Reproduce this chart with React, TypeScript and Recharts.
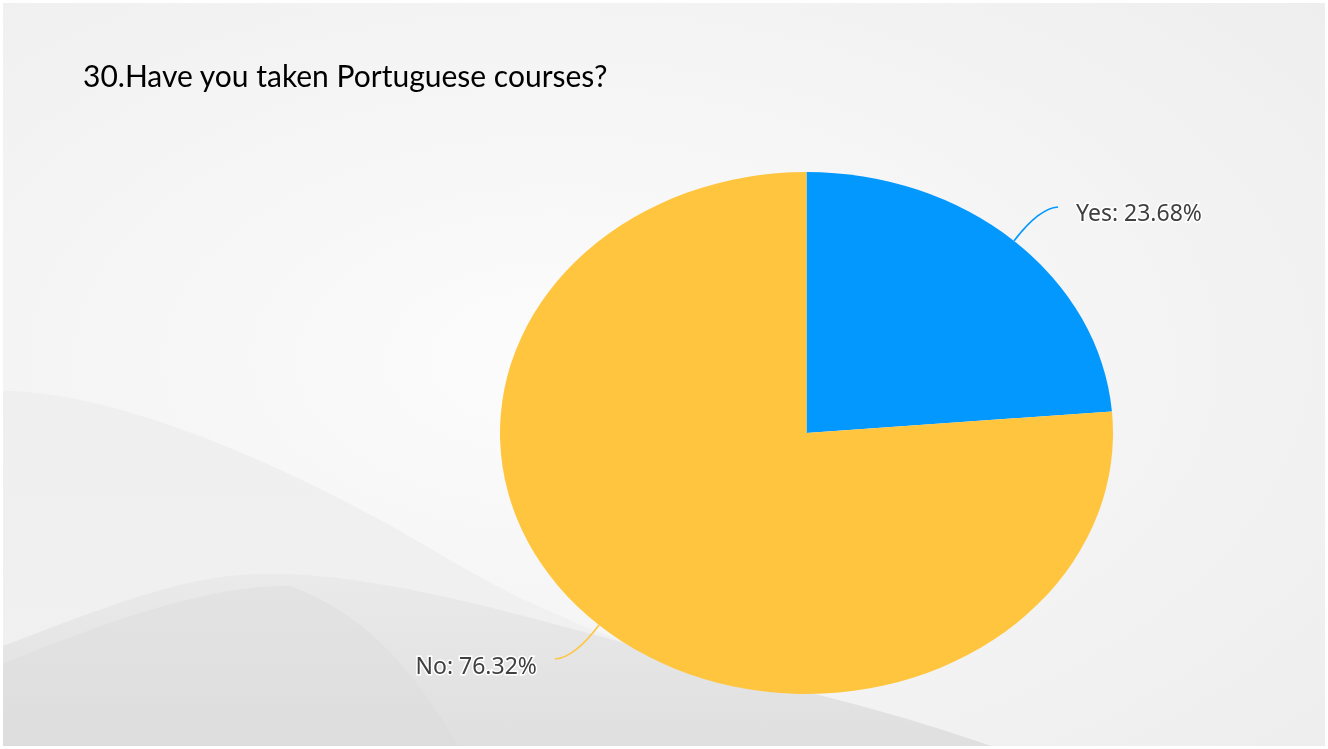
import { PieChart, Pie, Cell } from 'recharts'

// survey answers
const categories = ['Yes', 'No']
const shares = [23.68, 76.32]
const sliceColors = ['#0398FE', '#FFC53E']

const W = 1328
const H = 749
const CX = 806.5
const CY = 433
const RY = 261
const RX = 306.5
const SX = RX / RY // pie is drawn stretched into an ellipse

const data = categories.map((name, i) => ({ name, value: shares[i] }))

const toCircleX = (x: number) => CX + (x - CX) / SX

function renderLabel(props: any) {
  const { midAngle, index } = props
  const rad = (midAngle * Math.PI) / 180
  const cos = Math.cos(rad)
  const sin = Math.sin(rad)
  // edge point in ellipse (screen) space
  const ex = CX + RX * cos
  const ey = CY - RY * sin
  const dx = Math.sign(cos) * 44
  const dy = -Math.sign(sin) * 34
  const endX = ex + dx
  const endY = ey + dy
  const ctrlX = ex + dx * 0.55
  const ctrlY = ey + dy * 0.95
  const right = cos >= 0
  const tx = right ? endX + 18 : endX - 18
  const ty = right ? endY + 5 : endY + 6
  const tcx = toCircleX(tx)
  return (
    <g key={`lbl-${index}`}>
      <path
        d={`M${toCircleX(ex)},${ey} Q${toCircleX(ctrlX)},${ctrlY} ${toCircleX(endX)},${endY}`}
        fill="none"
        stroke={sliceColors[index]}
        strokeWidth={1.5}
        vectorEffect="non-scaling-stroke"
      />
      <text
        x={tcx}
        y={ty}
        transform={`translate(${tcx},0) scale(${1 / SX},1) translate(${-tcx},0)`}
        textAnchor={right ? 'start' : 'end'}
        dominantBaseline="central"
        fontFamily="'Noto Sans', sans-serif"
        fontSize={23}
        fill="#404040"
        stroke="#ffffff"
        strokeWidth={3}
        paintOrder="stroke"
      >
        {`${categories[index]}: ${shares[index].toFixed(2)}%`}
      </text>
    </g>
  )
}

export default function App() {
  return (
    <div
      style={{
        position: 'fixed',
        left: 0,
        top: 0,
        width: W,
        height: H,
        overflow: 'hidden',
      }}
    >
      <svg width={W} height={H} style={{ position: 'absolute', left: 0, top: 0 }}>
        <defs>
          <radialGradient id="bg" cx="0.42" cy="0.48" r="0.75">
            <stop offset="0%" stopColor="#fcfcfc" />
            <stop offset="100%" stopColor="#eeeeee" />
          </radialGradient>
          <linearGradient id="wave" x1="0" y1="0" x2="0" y2="1">
            <stop offset="0%" stopColor="#efefef" />
            <stop offset="100%" stopColor="#f1f1f1" />
          </linearGradient>
          <linearGradient id="hill" x1="0" y1="0" x2="0" y2="1">
            <stop offset="0%" stopColor="#eaeaea" />
            <stop offset="100%" stopColor="#dfdfdf" />
          </linearGradient>
        </defs>
        <rect width={W} height={H} fill="url(#bg)" />
        <path
          d="M0,391 C120,390 300,470 450,560 C600,650 800,700 1000,749 L0,749 Z"
          fill="url(#wave)"
        />
        <path
          d="M0,647 C100,610 180,575 260,574 C400,570 600,640 800,690 C900,715 960,735 1000,749 L0,749 Z"
          fill="url(#hill)"
        />
        <path
          d="M0,665 C110,620 210,585 290,586 C360,612 410,662 460,749 L0,749 Z"
          fill="#dcdcdc"
          opacity={0.45}
        />
        <rect x={1.5} y={1.5} width={W - 3} height={H - 3} fill="none" stroke="#ffffff" strokeWidth={3} />
        <text
          x={83}
          y={87}
          fontFamily="Lato, sans-serif"
          fontSize={30}
          fill="#000000"
        >
          30.Have you taken Portuguese courses?
        </text>
      </svg>
      <div
        style={{
          position: 'absolute',
          left: 0,
          top: 0,
          width: W,
          height: H,
          transform: `scaleX(${SX})`,
          transformOrigin: `${CX}px 0px`,
        }}
      >
        <PieChart width={W} height={H} margin={{ top: 0, right: 0, bottom: 0, left: 0 }}>
          <Pie
            data={data}
            dataKey="value"
            nameKey="name"
            cx={CX}
            cy={CY}
            outerRadius={RY}
            startAngle={90}
            endAngle={-270}
            stroke="none"
            label={renderLabel}
            labelLine={false}
            isAnimationActive={false}
          >
            {data.map((d, i) => (
              <Cell key={d.name} fill={sliceColors[i]} />
            ))}
          </Pie>
        </PieChart>
      </div>
    </div>
  )
}
